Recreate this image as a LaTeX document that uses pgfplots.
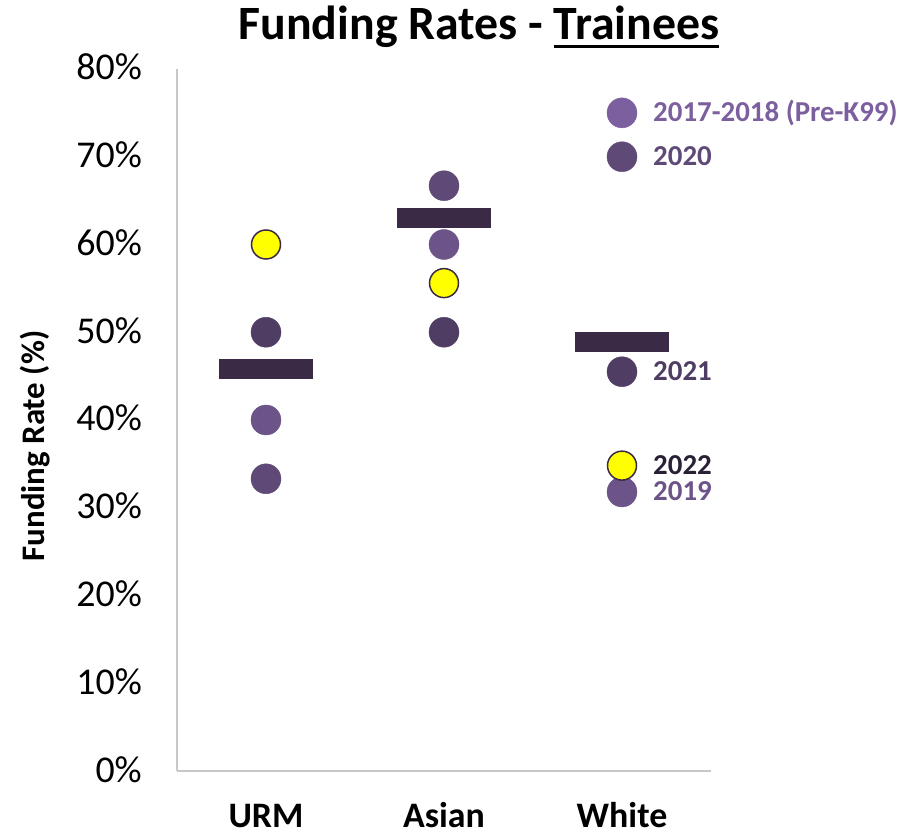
\documentclass[border=0pt]{standalone}
\usepackage{fontspec}
\setmainfont{Carlito}
\usepackage{pgfplots}
\pgfplotsset{compat=1.18}
\definecolor{cA}{HTML}{7B5F9E}
\definecolor{cB}{HTML}{6D5488}
\definecolor{cC}{HTML}{5F4A77}
\definecolor{cD}{HTML}{4F3D63}
\definecolor{cE}{HTML}{2A2035}
\definecolor{cbar}{HTML}{3A2A45}
\definecolor{cyel}{HTML}{FFFF00}
\definecolor{axisgray}{HTML}{C8C8C8}
\newcommand\ul[1]{\setbox0\hbox{#1}\rlap{\rule[-8bp]{\wd0}{3bp}}\box0}
\begin{document}
\begin{tikzpicture}
\useasboundingbox (0bp,0bp) rectangle (910bp,837bp);
\begin{axis}[
  at={(177bp,66bp)}, anchor=south west,
  scale only axis, width=534bp, height=702bp,
  xmin=-0.5, xmax=2.5, ymin=0, ymax=80,
  axis x line*=bottom, axis y line*=left,
  axis line style={draw=axisgray, line width=1.5bp, -},
  major tick length=0pt,
  xtick={0,1,2}, xticklabels={URM,Asian,White},
  ytick={0,10,...,80},
  yticklabel={\pgfmathprintnumber{\tick}\%},
  yticklabel style={/pgf/number format/assume math mode=true, font=\fontsize{38}{38}\selectfont, anchor=base east, inner sep=0pt, xshift=-35bp, yshift=-11bp},
  xticklabel style={font=\fontsize{36}{36}\selectfont\bfseries, anchor=base, inner sep=0pt, yshift=-56bp},
  clip=false,
]
\addplot[only marks, mark=*, mark size=15bp, color=cA] coordinates {(2,75)};
\addplot[only marks, mark=*, mark size=15bp, color=cB] coordinates {(0,40) (1,60) (2,31.8)};
\addplot[only marks, mark=*, mark size=15bp, color=cC] coordinates {(0,33.3) (1,66.7) (2,70)};
\addplot[only marks, mark=*, mark size=15bp, color=cD] coordinates {(0,50) (1,50) (2,45.5)};
\addplot[only marks, mark=*, mark size=14.5bp, draw=cbar, fill=cyel, mark options={line width=1.5bp, draw=cbar, fill=cyel}] coordinates {(0,60) (1,55.6) (2,34.8)};
\addplot[only marks, mark=-, mark size=47bp, color=cbar, mark options={line width=20bp}] coordinates {(0,45.8) (1,63) (2,48.9)};
\begin{scope}[every node/.style={anchor=base west, inner sep=0pt, xshift=31bp, yshift=-9bp, font=\fontsize{29}{29}\selectfont\bfseries}]
\node[text=cA] at (axis cs:2,75) {2017-2018 (Pre-K99)};
\node[text=cC] at (axis cs:2,70) {2020};
\node[text=cD] at (axis cs:2,45.5) {2021};
\node[text=cE] at (axis cs:2,34.8) {2022};
\node[text=cB] at (axis cs:2,31.8) {2019};
\end{scope}
\end{axis}
\node[anchor=base, inner sep=0pt, font=\fontsize{48}{48}\selectfont\bfseries] at (479bp,797bp) {Funding Rates - \ul{Trainees}};
\node[rotate=90, inner sep=0pt, font=\fontsize{33}{33}\selectfont\bfseries] at (35bp,391bp) {Funding Rate (\%)};
\end{tikzpicture}
\end{document}
